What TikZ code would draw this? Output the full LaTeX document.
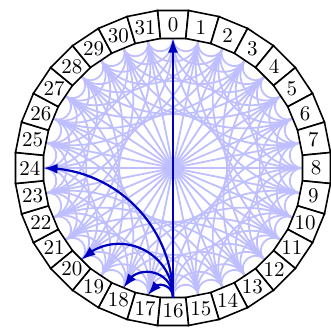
\documentclass[tikz,border=0pt]{standalone}
\usetikzlibrary{arrows.meta,bending}
\begin{document}
\begin{tikzpicture}[x=1pt,y=1pt,
  chord/.style={blue!25, line width=0.9pt},
  ringbox/.style={draw=black, line width=0.8pt, fill=white, line join=miter},
  finger/.style={draw=blue!75!black, line width=1.1pt, -{Latex[length=7pt,width=5pt]}},
  lab/.style={inner sep=0pt, font=\fontsize{10.5}{12}\selectfont}]
\def\Rin{64.75}
\def\Rout{78.75}
\def\Rlab{71.5}
\def\Rv{65.06}
\def\Rvo{79.13}
\useasboundingbox (-86.5,-80) rectangle (79,84);
\clip (-86.5,-80) rectangle (79,84);
% anchor points on the inner circle
\foreach \i in {0,...,31}{
  \coordinate (p\i) at ({90-11.25*\i}:\Rin);
}
% light chords (arcs orthogonal to the circle)
\foreach \k/\L in {1/1.5508, 2/1.4249, 4/1.2316, 8/0.9975}{
  \foreach \i in {0,...,31}{
    \pgfmathtruncatemacro\j{mod(\i+\k,32)}
    \pgfmathsetmacro\ao{270-11.25*\i}
    \pgfmathsetmacro\ai{270-11.25*\j}
    \draw[chord] (p\i) to[out=\ao, in=\ai, looseness=\L] (p\j);
  }
}
\foreach \i in {0,...,15}{
  \pgfmathtruncatemacro\j{\i+16}
  \draw[chord] (p\i) -- (p\j);
}
% ring of boxes
\foreach \i in {0,...,31}{
  \pgfmathsetmacro\a{90-11.25*\i}
  \draw[ringbox] ({\a+5.625}:\Rv) -- ({\a+5.625}:\Rvo) -- ({\a-5.625}:\Rvo) -- ({\a-5.625}:\Rv) -- cycle;
  \node[lab] (n\i) at (\a:\Rlab) {\i};
}
% fingers of node 16
\draw[finger] (p16) -- (p0);
\foreach \k/\L in {1/1.5508, 2/1.4249, 4/1.2316, 8/0.9975}{
  \pgfmathtruncatemacro\j{16+\k}
  \pgfmathsetmacro\ai{270-11.25*\j}
  \draw[finger] (p16) to[out=90, in=\ai, looseness=\L] (p\j);
}
\end{tikzpicture}
\end{document}
